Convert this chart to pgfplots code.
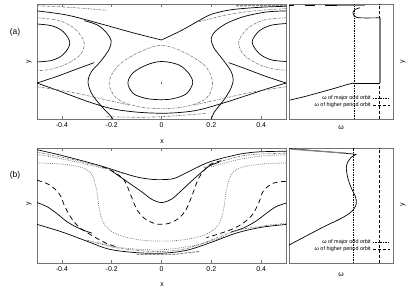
\documentclass[border=0pt]{standalone}
\usepackage{fontspec}
\setmainfont{Liberation Sans}
\usepackage{pgfplots}
\pgfplotsset{compat=1.18}
\definecolor{bord}{gray}{0.45}
\begin{document}
\begin{tikzpicture}
\useasboundingbox (0,0) rectangle (415bp,291bp);
\pgfplotsset{
 mainax/.style={scale only axis, width=249bp, height=115bp, xmin=-0.5, xmax=0.5, ymin=0, ymax=1,
   xtick={-0.4,-0.2,0,0.2,0.4}, xticklabels={-0.4,-0.2,0,0.2,0.4}, ytick=\empty,
   tick align=inside, major tick length=3bp,
   axis line style={bord, line width=0.6pt}, every tick/.style={bord, line width=0.6pt},
   xticklabel style={font=\fontsize{7}{8}\selectfont, yshift=-0.5bp}, anchor=south west},
 sideax/.style={scale only axis, width=104bp, height=115bp, xmin=0, xmax=1, ymin=0, ymax=1,
   xtick=\empty, ytick=\empty, axis line style={bord, line width=0.6pt}, anchor=south west,
   legend plot pos=right,
   legend style={draw=none, fill=none, font=\fontsize{5.5}{6}\selectfont, at={(rel axis cs:0.985,0.07)}, anchor=south east, row sep=-2.5pt, inner sep=1pt},
   legend cell align=right},
 sol/.style={black, line width=0.7pt, smooth, tension=0.55, forget plot},
 dd/.style={black!55, line width=0.6pt, dash pattern=on 2.5pt off 1pt on 0.6pt off 1pt, smooth, tension=0.55, forget plot},
 dt/.style={black!60, line width=0.7pt, dash pattern=on 0.7pt off 1.2pt, smooth, tension=0.55, forget plot},
 ds/.style={black, line width=0.75pt, dash pattern=on 5pt off 3.5pt, smooth, tension=0.55, forget plot},
}
% ================= panel (a) main =================
\begin{axis}[mainax, at={(37bp,172bp)}]
\addplot[sol] coordinates {(-0.5,0.94) (-0.38,0.904) (-0.248,0.83) (-0.115,0.75) (0,0.687)};
\addplot[sol] coordinates {(0,0.687) (0.08,0.77) (0.15,0.855) (0.2,0.91) (0.28,0.95) (0.4,0.972) (0.5,0.98)};
\addplot[sol] coordinates {(-0.31,0.855) (-0.26,0.82) (-0.225,0.76) (-0.202,0.68) (-0.212,0.6) (-0.245,0.5) (-0.282,0.41) (-0.295,0.32) (-0.28,0.22) (-0.245,0.12) (-0.21,0.04) (-0.195,0.0)};
\addplot[sol] coordinates {(0.5,0.94) (0.42,0.93) (0.33,0.89) (0.26,0.83) (0.215,0.76) (0.2,0.7) (0.21,0.62) (0.245,0.52) (0.278,0.42) (0.288,0.34) (0.275,0.25) (0.245,0.15) (0.212,0.06) (0.2,0.0)};
\addplot[sol] coordinates {(-0.5,0.313) (-0.42,0.37) (-0.34,0.435) (-0.27,0.49)};
\addplot[sol] coordinates {(0.5,0.313) (0.42,0.37) (0.34,0.435) (0.27,0.49)};
\addplot[sol] coordinates {(-0.5,0.313) (-0.4,0.235) (-0.3,0.155) (-0.2,0.09) (-0.1,0.06) (0,0.05) (0.08,0.058) (0.152,0.08) (0.25,0.14) (0.35,0.21) (0.42,0.26) (0.5,0.313)};
\addplot[sol] coordinates {(-0.5,0.826) (-0.44,0.81) (-0.395,0.76) (-0.368,0.66) (-0.395,0.56) (-0.44,0.51) (-0.5,0.496)};
\addplot[sol] coordinates {(0.5,0.83) (0.44,0.815) (0.392,0.765) (0.364,0.67) (0.392,0.57) (0.44,0.515) (0.5,0.5)};
\addplot[sol, smooth cycle] coordinates {(0,0.5) (0.07,0.47) (0.112,0.39) (0.125,0.31) (0.1,0.22) (0.05,0.178) (0,0.168) (-0.06,0.178) (-0.112,0.22) (-0.135,0.31) (-0.115,0.4) (-0.06,0.47)};
\addplot[only marks, mark=*, mark size=0.35pt, forget plot] coordinates {(0,0.313)};
\addplot[dd] coordinates {(-0.5,0.88) (-0.41,0.855) (-0.345,0.78) (-0.31,0.66) (-0.33,0.55) (-0.39,0.47) (-0.45,0.43) (-0.5,0.42)};
\addplot[dd] coordinates {(0.5,0.88) (0.41,0.86) (0.345,0.785) (0.31,0.67) (0.33,0.56) (0.39,0.475) (0.45,0.435) (0.5,0.425)};
\addplot[dd, smooth cycle] coordinates {(0,0.64) (0.1,0.57) (0.18,0.45) (0.205,0.31) (0.18,0.18) (0.1,0.11) (0,0.09) (-0.1,0.11) (-0.18,0.18) (-0.21,0.31) (-0.18,0.45) (-0.1,0.57)};
\addplot[dd] coordinates {(-0.5,0.985) (-0.4,0.975) (-0.3,0.96) (-0.22,0.945)};
\addplot[dd] coordinates {(0.15,0.845) (0.25,0.9) (0.35,0.935) (0.46,0.955) (0.5,0.96)};
\addplot[black!45, line width=1.2pt, dash pattern=on 3pt off 1pt, forget plot] coordinates {(0.3,0.985) (0.5,0.988)};
\addplot[dd] coordinates {(-0.22,0.02) (-0.1,0.015) (0,0.02) (0.1,0.035) (0.18,0.05)};
\addplot[dd] coordinates {(0.13,0.12) (0.25,0.18) (0.38,0.24) (0.5,0.28)};
\addplot[dd] coordinates {(-0.13,0.12) (-0.25,0.18) (-0.38,0.24) (-0.5,0.28)};
\end{axis}
% ================= panel (a) side =================
\begin{axis}[sideax, at={(289bp,172bp)}]
\addplot[black, line width=0.5pt, dash pattern=on 1.5pt off 1pt] coordinates {(0.63,0) (0.63,1)};
\addlegendentry{ω  of major odd orbit}
\addplot[black, line width=0.5pt, dash pattern=on 3pt off 2pt] coordinates {(0.865,0) (0.865,1)};
\addlegendentry{ω of higher period orbit}
\addplot[sol] coordinates {(0.01,0.165) (0.15,0.195) (0.3,0.232) (0.45,0.27) (0.55,0.297) (0.62,0.313)};
\addplot[black, line width=0.9pt, forget plot] coordinates {(0.62,0.313) (0.875,0.313)};
\addplot[black!50, line width=1.4pt, forget plot] coordinates {(0.875,0.313) (0.875,0.88)};
\addplot[sol] coordinates {(0.875,0.88) (0.68,0.88) (0.63,0.895) (0.615,0.925) (0.635,0.952) (0.68,0.967)};
\addplot[black!50, line width=1.4pt, forget plot] coordinates {(0.45,0.988) (0.73,0.988)};
\addplot[black, line width=1.2pt, forget plot] coordinates {(0.0,0.99) (0.05,0.99)};
\addplot[black, line width=1.2pt, forget plot] coordinates {(0.15,0.99) (0.25,0.99)};
\addplot[black, line width=1.2pt, forget plot] coordinates {(0.35,0.99) (0.46,0.99)};
\end{axis}
% ================= panel (b) main =================
\begin{axis}[mainax, at={(37bp,28bp)}]
\addplot[sol] coordinates {(-0.5,0.985) (-0.4,0.935) (-0.248,0.847) (-0.115,0.757) (-0.05,0.73) (0,0.725) (0.05,0.735) (0.1,0.785) (0.192,0.878) (0.3,0.94) (0.38,0.965) (0.5,0.972)};
\addplot[dd] coordinates {(-0.5,0.965) (-0.4,0.92) (-0.3,0.87) (-0.2,0.81) (-0.15,0.775)};
\addplot[dt] coordinates {(-0.5,0.945) (-0.4,0.905) (-0.3,0.858) (-0.22,0.815)};
\addplot[dd] coordinates {(0.17,0.83) (0.25,0.89) (0.35,0.94) (0.5,0.955)};
\addplot[dt] coordinates {(0.2,0.835) (0.3,0.895) (0.4,0.93) (0.5,0.94)};
\addplot[dt] coordinates {(-0.5,0.87) (-0.4,0.86) (-0.32,0.83) (-0.28,0.77) (-0.262,0.65) (-0.255,0.55) (-0.248,0.45) (-0.228,0.33) (-0.18,0.25) (-0.1,0.205) (0,0.19) (0.1,0.205) (0.18,0.25) (0.228,0.33) (0.248,0.45) (0.255,0.55) (0.262,0.65) (0.28,0.77) (0.32,0.83) (0.4,0.86) (0.5,0.87)};
\addplot[ds] coordinates {(-0.24,0.84) (-0.19,0.79) (-0.15,0.72) (-0.125,0.6) (-0.1,0.47) (-0.07,0.39) (-0.03,0.345) (0,0.336) (0.03,0.345) (0.07,0.39) (0.1,0.47) (0.125,0.6) (0.15,0.74) (0.19,0.85) (0.24,0.89)};
\addplot[ds] coordinates {(-0.5,0.72) (-0.45,0.68) (-0.41,0.6) (-0.39,0.5) (-0.365,0.4) (-0.33,0.31) (-0.28,0.24) (-0.22,0.17) (-0.18,0.14)};
\addplot[ds] coordinates {(0.5,0.71) (0.45,0.695) (0.41,0.63) (0.39,0.52) (0.365,0.42) (0.33,0.35) (0.29,0.3) (0.24,0.26) (0.18,0.22)};
\addplot[sol] coordinates {(-0.2,0.8) (-0.14,0.71) (-0.08,0.62) (-0.04,0.555) (0,0.526) (0.04,0.555) (0.08,0.63) (0.14,0.75) (0.19,0.84) (0.23,0.875)};
\addplot[sol] coordinates {(-0.5,0.526) (-0.46,0.49) (-0.42,0.43) (-0.38,0.36) (-0.33,0.3) (-0.28,0.26)};
\addplot[sol] coordinates {(0.5,0.52) (0.46,0.49) (0.42,0.43) (0.38,0.365) (0.33,0.305) (0.28,0.27)};
\addplot[sol] coordinates {(-0.5,0.336) (-0.4,0.27) (-0.3,0.19) (-0.21,0.12) (-0.1,0.09) (0,0.085) (0.1,0.11) (0.2,0.18) (0.3,0.26) (0.4,0.31) (0.5,0.335)};
\addplot[dd] coordinates {(-0.3,0.2) (-0.2,0.14) (-0.1,0.11) (0,0.1) (0.1,0.125) (0.2,0.2) (0.3,0.28) (0.4,0.32) (0.5,0.345)};
\addplot[dt] coordinates {(-0.26,0.18) (-0.15,0.13) (0,0.115) (0.15,0.16) (0.25,0.23)};
\addplot[black!45, line width=1pt, dash pattern=on 3pt off 1pt, forget plot] coordinates {(-0.1,0.075) (0.05,0.075) (0.15,0.1)};
\end{axis}
% ================= panel (b) side =================
\begin{axis}[sideax, at={(289bp,28bp)}]
\addplot[black, line width=0.5pt, dash pattern=on 1.5pt off 1pt] coordinates {(0.62,0) (0.62,1)};
\addlegendentry{ω  of major odd orbit}
\addplot[black, line width=0.5pt, dash pattern=on 3pt off 2pt] coordinates {(0.865,0) (0.865,1)};
\addlegendentry{ω of higher period orbit}
\addplot[black, line width=0.7pt, forget plot] coordinates {(0,0.995) (0.2,0.98) (0.4,0.965) (0.647,0.945)};
\addplot[black!50, line width=1.2pt, forget plot] coordinates {(0.02,0.99) (0.55,0.955)};
\addplot[sol] coordinates {(0.647,0.945) (0.6,0.92) (0.567,0.88) (0.551,0.83) (0.567,0.733) (0.6,0.651) (0.641,0.57) (0.647,0.52) (0.631,0.479) (0.583,0.433) (0.487,0.381) (0.359,0.326) (0.199,0.251) (0,0.156)};
\end{axis}
% ================= labels =================
\node[font=\fontsize{8.5}{9}\selectfont] at (15bp,259bp) {(a)};
\node[font=\fontsize{8.5}{9}\selectfont] at (15bp,116bp) {(b)};
\node[font=\fontsize{7}{8}\selectfont, rotate=90] at (29bp,229bp) {y};
\node[font=\fontsize{7}{8}\selectfont, rotate=90] at (29bp,87bp) {y};
\node[font=\fontsize{7}{8}\selectfont, rotate=90] at (403bp,229bp) {y};
\node[font=\fontsize{7}{8}\selectfont, rotate=90] at (403bp,86bp) {y};
\node[font=\fontsize{7}{8}\selectfont] at (162bp,149bp) {x};
\node[font=\fontsize{7}{8}\selectfont] at (162bp,6bp) {x};
\node[font=\fontsize{7}{8}\selectfont] at (341bp,163bp) {ω};
\node[font=\fontsize{7}{8}\selectfont] at (341bp,16bp) {ω};
\end{tikzpicture}
\end{document}
